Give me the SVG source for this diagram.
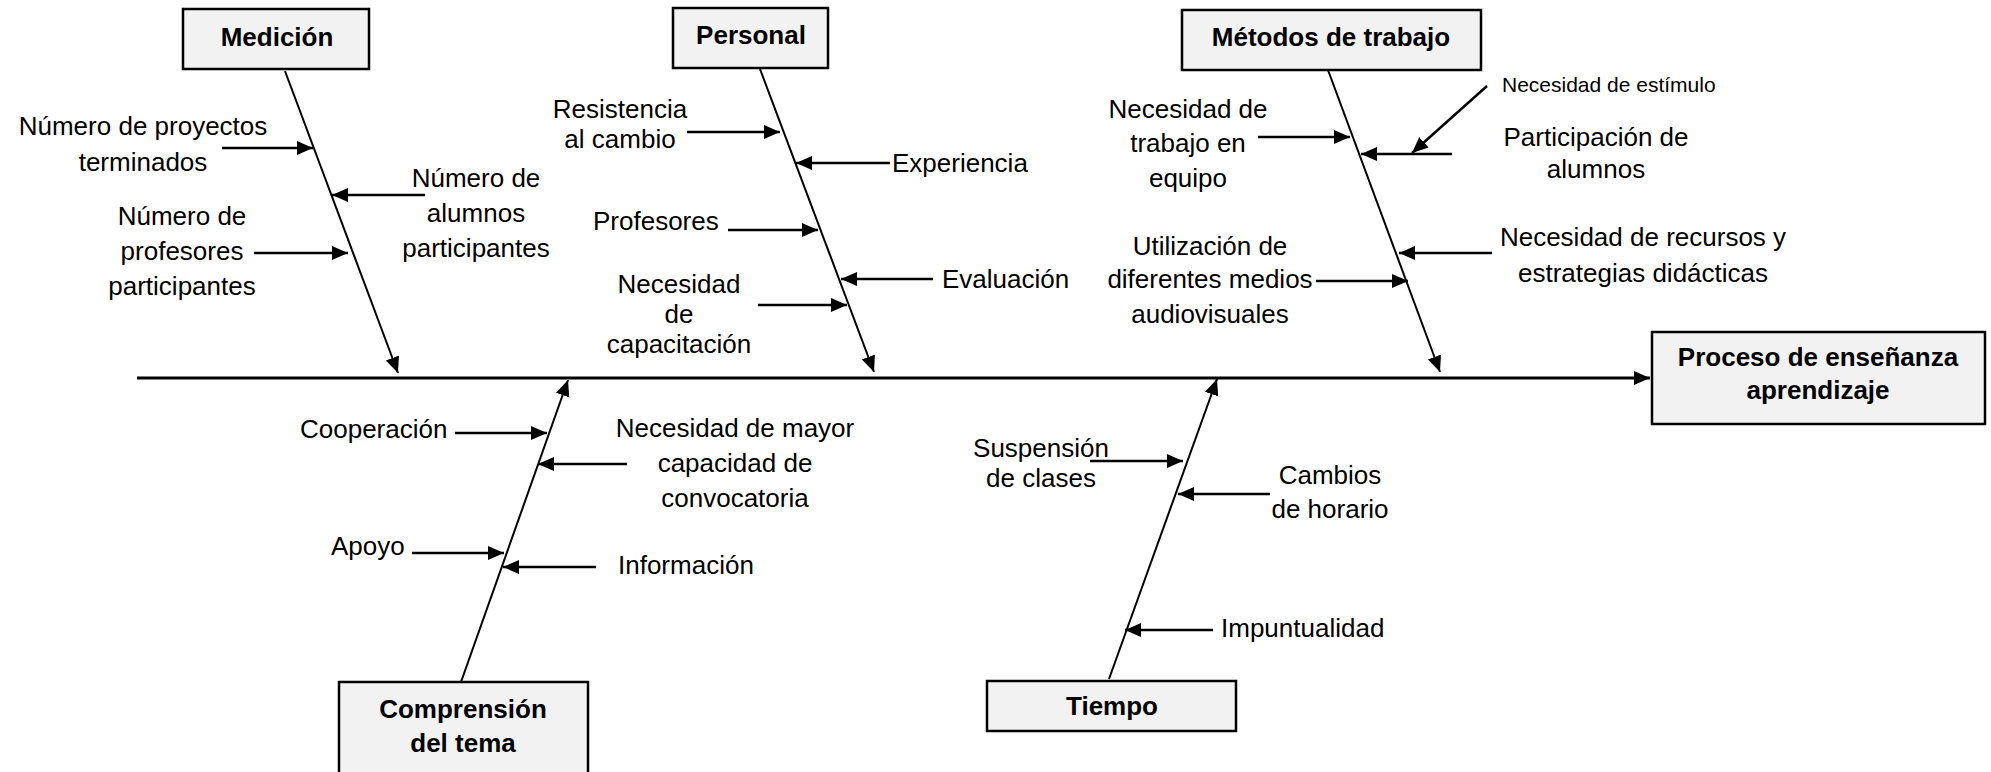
<svg xmlns="http://www.w3.org/2000/svg" width="1991" height="772" viewBox="0 0 1991 772">
<style>
.box{fill:#f2f2f2;stroke:#000;stroke-width:2.5}
.t{font-family:"Liberation Sans",Arial,sans-serif;font-size:26px;fill:#000}
.tb{font-family:"Liberation Sans",Arial,sans-serif;font-size:26px;font-weight:bold;fill:#000;text-anchor:middle}
.c{text-anchor:middle}
.sm{font-size:21px}
.spine{stroke:#000;stroke-width:3;fill:none}
.bone{stroke:#000;stroke-width:2;fill:none}
.br{stroke:#000;stroke-width:2.5;fill:none}
</style>
<defs>
<marker id="ah" markerUnits="userSpaceOnUse" markerWidth="18" markerHeight="16" refX="16" refY="7" orient="auto">
<path d="M0,0 L16,7 L0,14 z" fill="#000"/>
</marker>
</defs>
<rect width="1991" height="772" fill="#fff"/>

<g id="connectors">
<line class="spine" x1="137" y1="378" x2="1650" y2="378" marker-end="url(#ah)"/>
<!-- bones -->
<line class="bone" x1="285" y1="71" x2="398" y2="373" marker-end="url(#ah)"/>
<line class="bone" x1="760" y1="69" x2="874" y2="372" marker-end="url(#ah)"/>
<line class="bone" x1="1328" y1="70" x2="1440" y2="372" marker-end="url(#ah)"/>
<line class="bone" x1="461" y1="682" x2="568" y2="380" marker-end="url(#ah)"/>
<line class="bone" x1="1109" y1="679" x2="1217" y2="379" marker-end="url(#ah)"/>
<!-- Medición branches -->
<line class="br" x1="222" y1="148" x2="313" y2="148" marker-end="url(#ah)"/>
<line class="br" x1="425" y1="195" x2="332" y2="195" marker-end="url(#ah)"/>
<line class="br" x1="254" y1="253" x2="348" y2="253" marker-end="url(#ah)"/>
<!-- Personal branches -->
<line class="br" x1="687" y1="132" x2="780" y2="132" marker-end="url(#ah)"/>
<line class="br" x1="890" y1="163" x2="796" y2="163" marker-end="url(#ah)"/>
<line class="br" x1="728" y1="230" x2="818" y2="230" marker-end="url(#ah)"/>
<line class="br" x1="933" y1="279" x2="841" y2="279" marker-end="url(#ah)"/>
<line class="br" x1="758" y1="305" x2="847" y2="305" marker-end="url(#ah)"/>
<!-- Métodos branches -->
<line class="br" x1="1258" y1="137" x2="1350" y2="137" marker-end="url(#ah)"/>
<line class="br" x1="1452" y1="154" x2="1361" y2="154" marker-end="url(#ah)"/>
<line class="br" x1="1487" y1="86" x2="1412" y2="153" marker-end="url(#ah)"/>
<line class="br" x1="1492" y1="253" x2="1399" y2="253" marker-end="url(#ah)"/>
<line class="br" x1="1316" y1="281" x2="1408" y2="281" marker-end="url(#ah)"/>
<!-- Comprensión branches -->
<line class="br" x1="455" y1="433" x2="547" y2="433" marker-end="url(#ah)"/>
<line class="br" x1="627" y1="464" x2="538" y2="464" marker-end="url(#ah)"/>
<line class="br" x1="412" y1="553" x2="504" y2="553" marker-end="url(#ah)"/>
<line class="br" x1="596" y1="567" x2="503" y2="567" marker-end="url(#ah)"/>
<!-- Tiempo branches -->
<line class="br" x1="1090" y1="461" x2="1183" y2="461" marker-end="url(#ah)"/>
<line class="br" x1="1270" y1="494" x2="1178" y2="494" marker-end="url(#ah)"/>
<line class="br" x1="1213" y1="630" x2="1125" y2="630" marker-end="url(#ah)"/>
</g>

<g id="medicion">
<rect class="box" x="183" y="9" width="186" height="60"/>
<text class="tb" x="277" y="46">Medición</text>
</g>
<g id="personal">
<rect class="box" x="673" y="8" width="155" height="60"/>
<text class="tb" x="751" y="44">Personal</text>
</g>
<g id="metodos">
<rect class="box" x="1182" y="10" width="299" height="60"/>
<text class="tb" x="1331" y="46">Métodos de trabajo</text>
</g>
<g id="proceso">
<rect class="box" x="1652" y="332" width="333" height="92"/>
<text class="tb" x="1818" y="366">Proceso de enseñanza</text>
<text class="tb" x="1818" y="399">aprendizaje</text>
</g>
<g id="comprension">
<rect class="box" x="339" y="682" width="249" height="100"/>
<text class="tb" x="463" y="718">Comprensión</text>
<text class="tb" x="463" y="752">del tema</text>
</g>
<g id="tiempo">
<rect class="box" x="987" y="681" width="249" height="50"/>
<text class="tb" x="1112" y="715">Tiempo</text>
</g>

<g id="labels-medicion">
<text class="t c" x="143" y="135">Número de proyectos</text>
<text class="t c" x="143" y="171">terminados</text>
<text class="t c" x="476" y="187">Número de</text>
<text class="t c" x="476" y="222">alumnos</text>
<text class="t c" x="476" y="257">participantes</text>
<text class="t c" x="182" y="225">Número de</text>
<text class="t c" x="182" y="260">profesores</text>
<text class="t c" x="182" y="295">participantes</text>
</g>
<g id="labels-personal">
<text class="t c" x="620" y="118">Resistencia</text>
<text class="t c" x="620" y="148">al cambio</text>
<text class="t" x="892" y="172">Experiencia</text>
<text class="t" x="593" y="230">Profesores</text>
<text class="t" x="942" y="288">Evaluación</text>
<text class="t c" x="679" y="293">Necesidad</text>
<text class="t c" x="679" y="323">de</text>
<text class="t c" x="679" y="353">capacitación</text>
</g>
<g id="labels-metodos">
<text class="t c" x="1188" y="118">Necesidad de</text>
<text class="t c" x="1188" y="152">trabajo en</text>
<text class="t c" x="1188" y="187">equipo</text>
<text class="t sm" x="1502" y="92">Necesidad de estímulo</text>
<text class="t c" x="1596" y="146">Participación de</text>
<text class="t c" x="1596" y="178">alumnos</text>
<text class="t c" x="1210" y="255">Utilización de</text>
<text class="t c" x="1210" y="288">diferentes medios</text>
<text class="t c" x="1210" y="323">audiovisuales</text>
<text class="t c" x="1643" y="246">Necesidad de recursos y</text>
<text class="t c" x="1643" y="282">estrategias didácticas</text>
</g>
<g id="labels-comprension">
<text class="t" x="300" y="438">Cooperación</text>
<text class="t c" x="735" y="437">Necesidad de mayor</text>
<text class="t c" x="735" y="472">capacidad de</text>
<text class="t c" x="735" y="507">convocatoria</text>
<text class="t" x="331" y="555">Apoyo</text>
<text class="t" x="618" y="574">Información</text>
</g>
<g id="labels-tiempo">
<text class="t c" x="1041" y="457">Suspensión</text>
<text class="t c" x="1041" y="487">de clases</text>
<text class="t c" x="1330" y="484">Cambios</text>
<text class="t c" x="1330" y="518">de horario</text>
<text class="t" x="1221" y="637">Impuntualidad</text>
</g>
</svg>
